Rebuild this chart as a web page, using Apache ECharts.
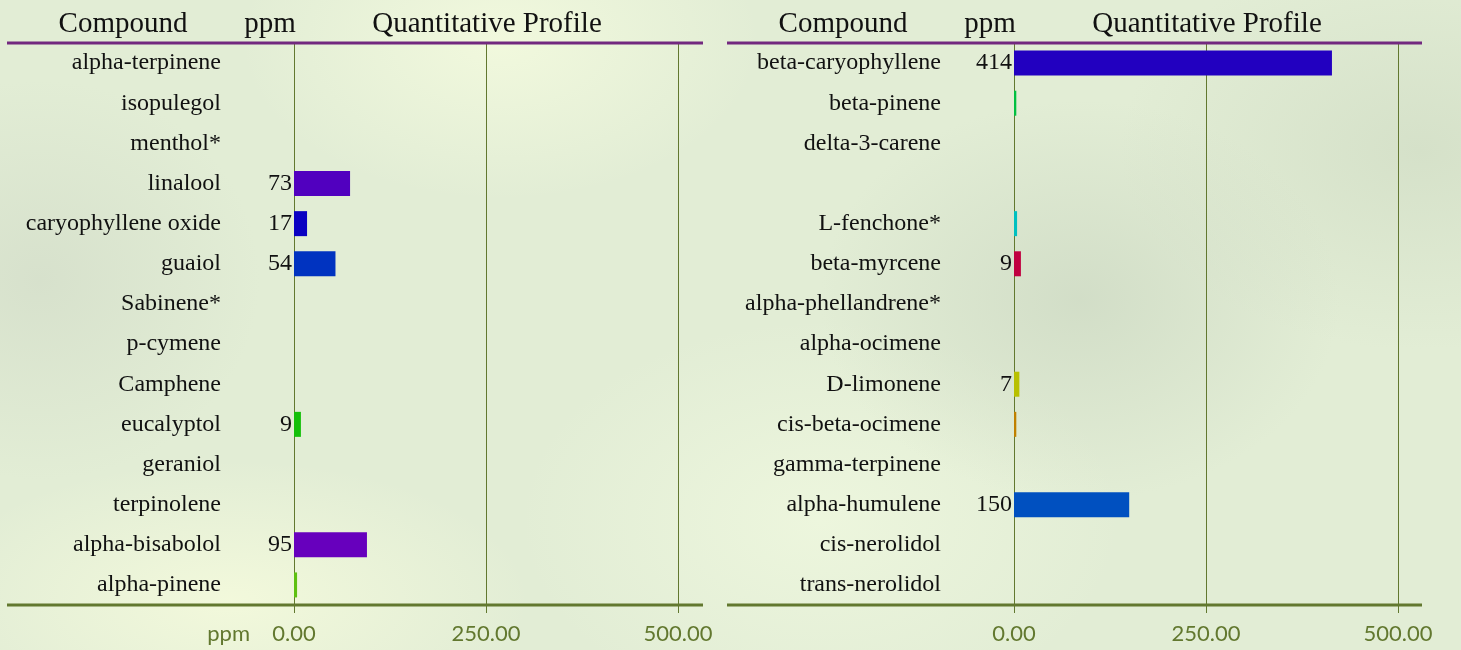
<!DOCTYPE html>
<html>
<head>
<meta charset="utf-8">
<script src="https://cdn.jsdelivr.net/npm/echarts@6/dist/echarts.min.js"></script>
<style>
html,body{margin:0;padding:0;width:1461px;height:650px;overflow:hidden;}
body{
  background:
    radial-gradient(ellipse 260px 160px at 500px 40px, rgba(243,250,222,0.9), rgba(243,250,222,0) 100%),
    radial-gradient(ellipse 300px 140px at 230px 600px, rgba(244,250,220,0.9), rgba(244,250,220,0) 100%),
    radial-gradient(ellipse 260px 200px at 1080px 300px, rgba(206,218,196,0.8), rgba(206,218,196,0) 100%),
    radial-gradient(ellipse 220px 200px at 40px 280px, rgba(212,222,202,0.8), rgba(212,222,202,0) 100%),
    radial-gradient(ellipse 300px 200px at 1420px 150px, rgba(210,222,198,0.8), rgba(210,222,198,0) 100%),
    radial-gradient(ellipse 300px 200px at 820px 520px, rgba(238,247,222,0.9), rgba(238,247,222,0) 100%),
    #e2edd5;
}
#chart{width:1461px;height:650px;}
</style>
</head>
<body>
<div id="chart"></div>
<script>
// ---- data ----
const leftCompounds = ['alpha-terpinene','isopulegol','menthol*','linalool','caryophyllene oxide','guaiol','Sabinene*','p-cymene','Camphene','eucalyptol','geraniol','terpinolene','alpha-bisabolol','alpha-pinene'];
const leftValues = [0, 0, 0, 73, 17, 54, 0, 0, 0, 9, 0, 0, 95, 4];
const leftLabels = ['', '', '', '73', '17', '54', '', '', '', '9', '', '', '95', ''];
const rightCompounds = ['beta-caryophyllene','beta-pinene','delta-3-carene',' ','L-fenchone*','beta-myrcene','alpha-phellandrene*','alpha-ocimene','D-limonene','cis-beta-ocimene','gamma-terpinene','alpha-humulene','cis-nerolidol','trans-nerolidol'];
const rightValues = [414, 3, 0, 0, 4, 9, 0, 0, 7, 3, 0, 150, 0, 0];
const rightLabels = ['414', '', '', '', '', '9', '', '', '7', '', '', '150', '', ''];
const axisTicks = [0, 250, 500];
const headerTexts = ['Compound', 'ppm', 'Quantitative Profile'];
const axisUnit = 'ppm';

// ---- styles ----
const leftColors = ['#5000c0','#5000c0','#5000c0','#5100bf','#0a00c2','#0033c0','#000','#000','#000','#14c00a','#000','#000','#6700bd','#5ec010'];
const rightColors = ['#2200c0','#00c040','#000','#000','#00c0c0','#c00040','#000','#000','#b8c000','#c08000','#000','#0050c0','#000','#000'];
const olive = '#62782f';
const purple = '#72287f';
const serif = '"Liberation Serif", "Times New Roman", serif';
const sans = 'Lato, "Open Sans", sans-serif';

const chart = echarts.init(document.getElementById('chart'), null, {renderer:'canvas'});

function xAxis(gi){
  return {
    gridIndex: gi, type:'value', min: axisTicks[0], max: axisTicks[axisTicks.length-1], interval: axisTicks[1]-axisTicks[0],
    axisLine:{show:false},
    axisTick:{show:true, length:8, lineStyle:{color:olive, width:1}},
    splitLine:{show:true, lineStyle:{color:olive, width:1}},
    axisLabel:{color:olive, fontFamily:sans, fontSize:22, margin:18, formatter:v=>v.toFixed(2)}
  };
}
function yAxis(gi, cats){
  return {
    gridIndex: gi, type:'category', data: cats, inverse:true,
    axisLine:{show:false}, axisTick:{show:false}, splitLine:{show:false},
    axisLabel:{color:'#111', fontFamily:serif, fontSize:24, margin:73}
  };
}
function series(gi, vals, cols, labs){
  return {
    type:'bar', xAxisIndex:gi, yAxisIndex:gi, barWidth:25,
    data: vals.map((v,i)=>({value:v, itemStyle:{color:cols[i]}, label:{show: labs[i] !== '', formatter: labs[i]}})),
    label:{position:'left', distance:2, color:'#111', fontFamily:serif, fontSize:24},
    silent:true
  };
}

const panels = [{x0:7, x1:703, zero:294, end:678}, {x0:727, x1:1422, zero:1014, end:1398}];
const graphic = [];
panels.forEach((p, pi)=>{
  graphic.push({type:'line', shape:{x1:p.x0, y1:43, x2:p.x1, y2:43}, style:{stroke:purple, lineWidth:3}, z:10});
  graphic.push({type:'line', shape:{x1:p.x0, y1:605, x2:p.x1, y2:605}, style:{stroke:olive, lineWidth:3}, z:10});
  const hx = [p.zero - 171, p.zero - 24, (p.zero + p.end)/2 + 1];
  headerTexts.forEach((t, i)=>{
    graphic.push({type:'text', x:hx[i], y:24, style:{text:t, font:'29px ' + serif, fill:'#111', textAlign:'center', textVerticalAlign:'middle'}, z:10});
  });
});
graphic.push({type:'text', x:250, y:634, style:{text:axisUnit, font:'22px ' + sans, fill:olive, textAlign:'right', textVerticalAlign:'middle'}});

chart.setOption({
  animation:false,
  backgroundColor:'transparent',
  grid:[
    {left:294, width:384, top:43, bottom:45, containLabel:false},
    {left:1014, width:384, top:43, bottom:45, containLabel:false}
  ],
  xAxis:[xAxis(0), xAxis(1)],
  yAxis:[yAxis(0, leftCompounds), yAxis(1, rightCompounds)],
  series:[series(0, leftValues, leftColors, leftLabels), series(1, rightValues, rightColors, rightLabels)],
  graphic: graphic
});
</script>
</body>
</html>
